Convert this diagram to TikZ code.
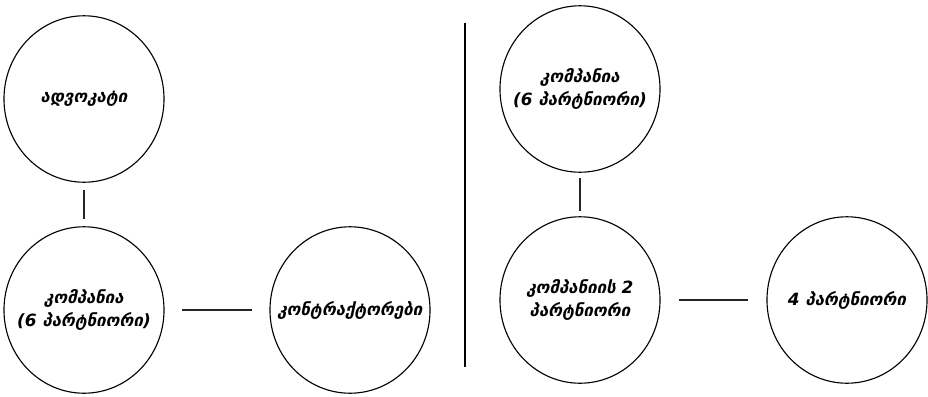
\documentclass[tikz,border=0pt]{standalone}
\usepackage{fontspec}
\setmainfont{DejaVu Sans}
\usetikzlibrary{shapes.geometric, positioning}

\begin{document}
\begin{tikzpicture}[x=0.025cm, y=-0.025cm,
    party/.style={rectangle, minimum width=4.04cm, minimum height=4.2cm,
        inner sep=0pt, align=center,
        font=\bfseries\itshape\fontsize{12}{17}\selectfont,
        path picture={\draw[line width=0.8pt] (path picture bounding box.center)
            ellipse (2cm and 2.08cm);}},
    link/.style={line width=0.8pt, draw=black!85}]

    \useasboundingbox (0,0) rectangle (928,396);

    % --- left: lawyer and the firm ---
    \node[party] (lawyer) at (84,99) {ადვოკატი};
    \node[party] (firmA) at (84,310) {კომპანია\\(6 პარტნიორი)};
    \node[party] (contractors) at (350,310) {კონტრაქტორები};

    \draw[link, shorten <=0.17cm, shorten >=0.17cm] (lawyer) -- (firmA);
    \draw[link, shorten <=0.42cm, shorten >=0.42cm] (firmA) -- (contractors);

    % Divider
    \coordinate (divtop) at (465,23);
    \coordinate (divbot) at (465,367);
    \draw[line width=0.8pt] (divtop) -- (divbot);

    % --- right: the firm splits ---
    \node[party] (firmB) at (580,89) {კომპანია\\(6 პარტნიორი)};
    \node[party] (partnersB) at (580,300) {კომპანიის 2\\პარტნიორი};
    \node[party] (partnersC) at (847,300) {4 პარტნიორი};

    \draw[link, shorten <=0.12cm, shorten >=0.12cm] (firmB) -- (partnersB);
    \draw[link, shorten <=0.45cm, shorten >=0.45cm] (partnersB) -- (partnersC);

\end{tikzpicture}
\end{document}
